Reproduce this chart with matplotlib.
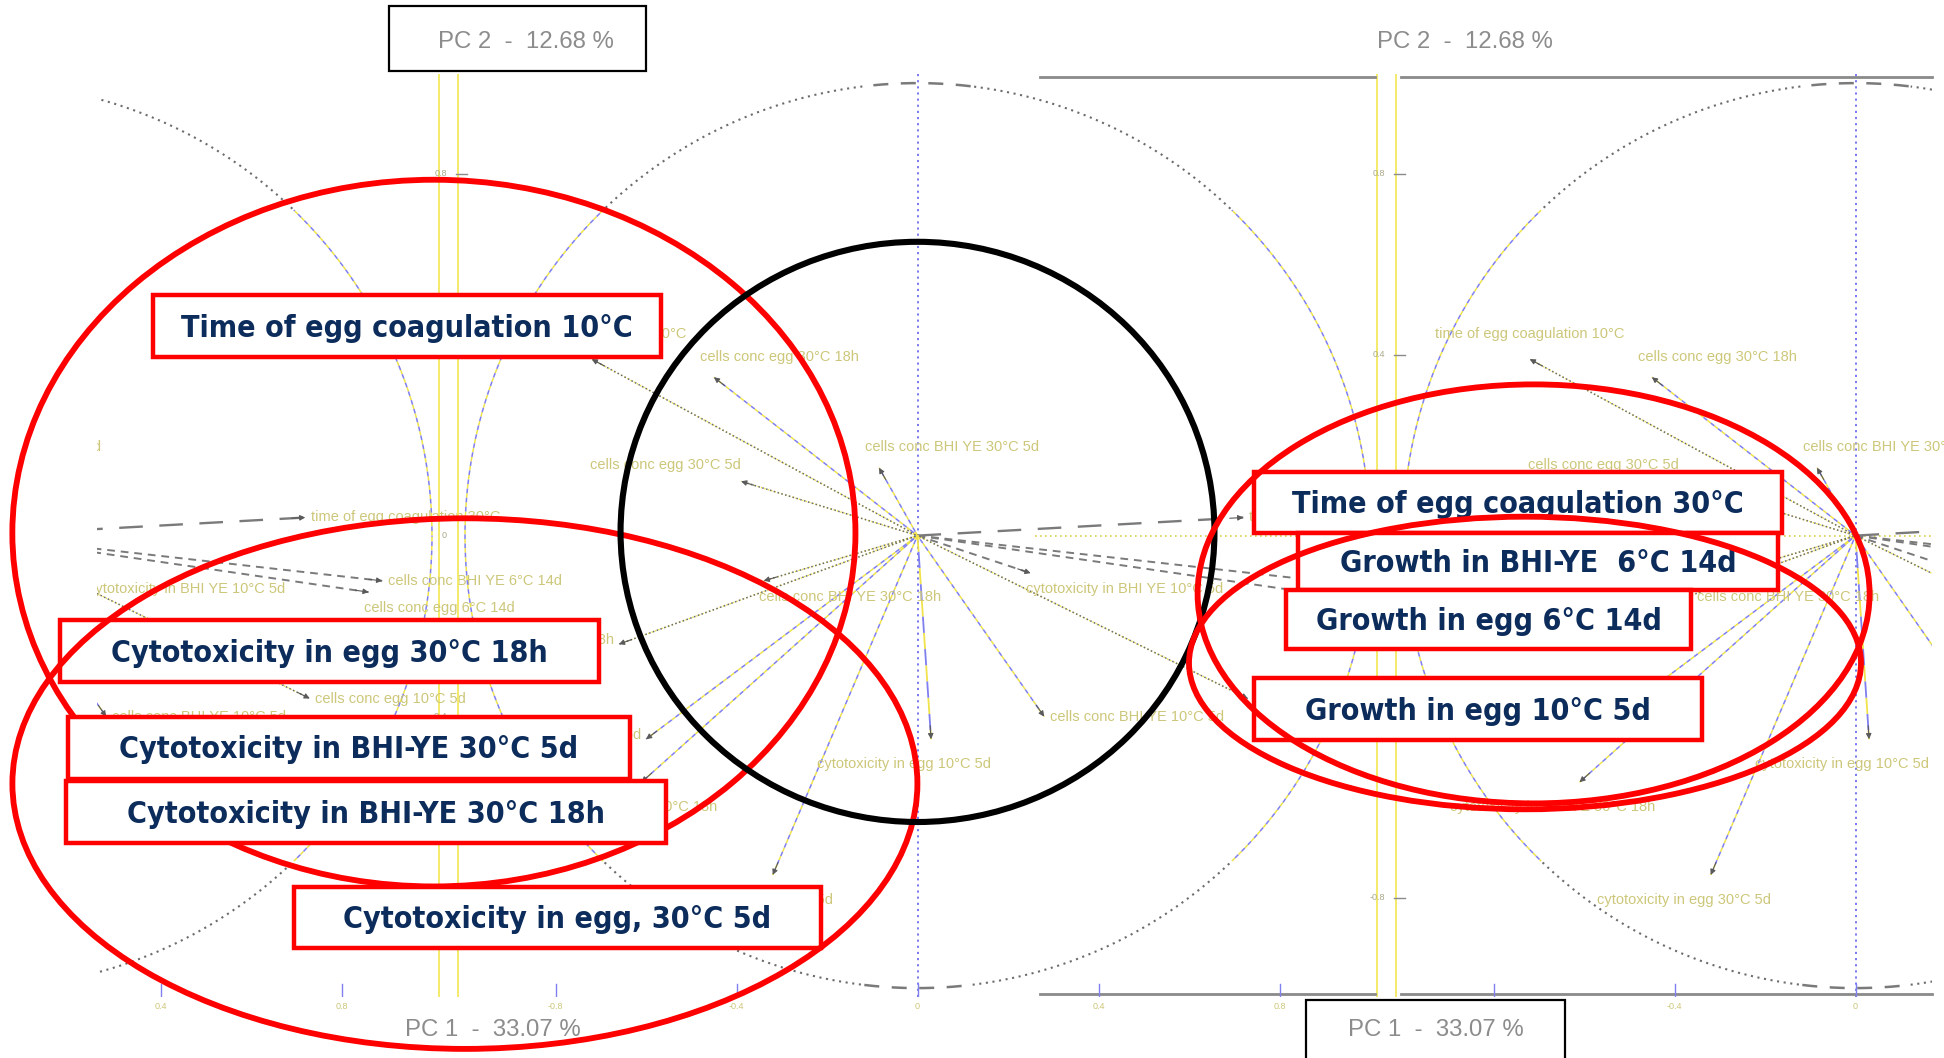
import numpy as np
import matplotlib
matplotlib.use("Agg")
import matplotlib.pyplot as plt
from matplotlib import font_manager
from matplotlib.patches import Ellipse, Rectangle
from matplotlib.transforms import Bbox, TransformedBbox

# ------------------------------------------------------------------ data
variables = [
    "time of egg coagulation 10°C",
    "cells conc egg 30°C 18h",
    "cells conc egg 30°C 5d",
    "cells conc BHI YE 30°C 5d",
    "time of egg coagulation 30°C",
    "cells conc BHI YE 6°C 14d",
    "cells conc egg 6°C 14d",
    "cytotoxicity in BHI YE 10°C 5d",
    "cells conc BHI YE 30°C 18h",
    "cells conc egg 10°C 5d",
    "cytotoxicity in egg 10°C 5d",
    "cells conc BHI YE 10°C 5d",
    "cytotoxicity in egg 30°C 5d",
    "cytotoxicity in BHI YE 30°C 5d",
    "cytotoxicity in BHI YE 30°C 18h",
    "cytotoxicity in egg 30°C 18h",
]
pc1_loading = [-0.72, -0.45, -0.39, -0.085, 0.72, 0.89, 0.86, 0.25,
               -0.34, 0.73, 0.03, 0.28, -0.32, -0.60, -0.61, -0.66]
pc2_loading = [0.39, 0.35, 0.12, 0.15, 0.04, -0.10, -0.125, -0.083,
               -0.10, -0.36, -0.45, -0.40, -0.75, -0.45, -0.545, -0.24]

pc1_title = "PC 1  -  33.07 %"
pc2_title = "PC 2  -  12.68 %"
tick_values = [-0.8, -0.4, 0.0, 0.4, 0.8]
tick_labels = ["-0.8", "-0.4", "0", "0.4", "0.8"]

left_group = ["Time of egg coagulation 10°C",
              "Cytotoxicity in egg 30°C 18h",
              "Cytotoxicity in BHI-YE 30°C 5d",
              "Cytotoxicity in BHI-YE 30°C 18h",
              "Cytotoxicity in egg, 30°C 5d"]
right_group = ["Time of egg coagulation 30°C",
               "Growth in BHI-YE  6°C 14d",
               "Growth in egg 6°C 14d",
               "Growth in egg 10°C 5d"]

# ------------------------------------------------------------------ styles
line_kind = ['dot', 'yb', 'dot', 'yb', 'long', 'dash', 'dash', 'dash',
             'dot', 'dot', 'yblong', 'yb', 'yb', 'yb', 'yb', 'dot']
label_pos = ['ca', 'la', 'ra', 'la', 'l', 'l', 'lb', 'lb',
             'lb', 'l', 'cb', 'l', 'cb', 'r', 'cb', 'r']

YEL = '#efe24a'
BLU = '#7f7ff0'
GRY = '#6c6c6c'
LBL = '#cdc77a'
NAVY = '#0c2c5c'
RED = '#ff0000'

fonts = font_manager.fontManager.ttflist
names = {f.name for f in fonts}


def _is_bold(w):
    try:
        return int(w) >= 600
    except (TypeError, ValueError):
        return str(w).lower() in ('bold', 'heavy', 'black', 'extra bold', 'semibold', 'demibold')


box_family, box_stretch = 'DejaVu Sans', 'normal'
if 'Liberation Sans Narrow' in names:
    box_family = 'Liberation Sans Narrow'
else:
    for fam in ['DejaVu Sans', 'Noto Sans', 'Open Sans', 'Roboto', 'Lato']:
        hit = [f for f in fonts if f.name == fam and 'condensed' in str(f.stretch) and _is_bold(f.weight)]
        if hit:
            box_family, box_stretch = fam, hit[0].stretch
            break
small_family = 'Liberation Sans' if 'Liberation Sans' in names else 'DejaVu Sans'

W, H, DPI = 1944, 1058, 100
fig = plt.figure(figsize=(W / DPI, H / DPI), dpi=DPI)
fig.patch.set_facecolor('white')

# annotation box layout (figure pixels, from top-left)
left_boxes = [(152.5, 295, 660.8, 357), (59.5, 620, 598.8, 682), (68.2, 716.6, 629.8, 778.6),
              (65.7, 781, 665.8, 843), (293.8, 886.5, 820.7, 948.4)]
right_boxes = [(1253.5, 471.5, 1782, 533), (1298, 533, 1778, 590), (1286, 590, 1691, 649),
               (1253.5, 678, 1702, 740)]

# ------------------------------------------------------------------ loading panels (collage of 3 copies)
centers = [-20.5, 917.5, 1855.5]
CY, R, F = 535.6, 452.5, 1.02
xlims = [(0.26, F), (-F, F), (-F, (W - 12 - 1855.5) / R)]
clip_px = centers[0] + 0.26 * R
clipbb = TransformedBbox(Bbox([[clip_px / W, 0], [1, 1]]), fig.transFigure)
panel_texts = []


def ptext(ax, x, y, s, **kw):
    t = ax.text(x, y, s, clip_on=True, family=small_family, **kw)
    t.set_clip_path(None)
    t.set_clip_box(clipbb)
    panel_texts.append(t)
    return t


def draw_vector(ax, x, y, kind):
    xs, ys = [0, x], [0, y]
    if kind == 'dot':
        ax.plot(xs, ys, color=YEL, lw=1.0, ls=(0, (1, 1.6)))
        ax.plot(xs, ys, color=GRY, lw=1.1, ls=(1.3, (1, 1.6)))
    elif kind == 'yb':
        ax.plot(xs, ys, color=YEL, lw=1.1, ls=(0, (3, 3)))
        ax.plot(xs, ys, color=BLU, lw=1.1, ls=(3, (3, 3)))
    elif kind == 'yblong':
        ax.plot(xs, ys, color=YEL, lw=1.3, ls=(0, (9, 9)))
        ax.plot(xs, ys, color=BLU, lw=1.3, ls=(9, (9, 9)))
    elif kind == 'dash':
        ax.plot(xs, ys, color='#7a7a7a', lw=1.4, ls=(0, (4, 3)))
    elif kind == 'long':
        ax.plot(xs, ys, color='#7a7a7a', lw=1.7, ls=(0, (10, 7)))
    n = np.hypot(x, y)
    ux, uy = x / n, y / n
    ax.annotate('', xy=(x, y), xytext=(x - 0.03 * ux, y - 0.03 * uy),
                arrowprops=dict(arrowstyle='-|>', color='#5a5a5a', lw=0.8,
                                mutation_scale=8, shrinkA=0, shrinkB=0))


def draw_label(ax, x, y, s, pos):
    kw = dict(fontsize=10.5, color=LBL)
    if pos == 'l':
        ptext(ax, x + 0.012, y, s, ha='left', va='center', **kw)
    elif pos == 'la':
        ptext(ax, x - 0.03, y + 0.03, s, ha='left', va='bottom', **kw)
    elif pos == 'lb':
        ptext(ax, x - 0.01, y - 0.02, s, ha='left', va='top', **kw)
    elif pos == 'r':
        ptext(ax, x - 0.01, y + 0.01, s, ha='right', va='center', **kw)
    elif pos == 'ra':
        ptext(ax, x, y + 0.02, s, ha='right', va='bottom', **kw)
    elif pos == 'ca':
        ptext(ax, x, y + 0.04, s, ha='center', va='bottom', **kw)
    elif pos == 'cb':
        ptext(ax, x - 0.06, y - 0.04, s, ha='center', va='top', **kw)


theta = np.linspace(0, 2 * np.pi, 1441)
cxs, cys = np.cos(theta), np.sin(theta)
steep = np.abs(cys) <= 0.72
cap = np.abs(cxs) <= 0.12
flat = ~steep & ~cap

for i, (cx, (x0, x1)) in enumerate(zip(centers, xlims)):
    lpx = cx + x0 * R
    wpx = (x1 - x0) * R
    tpx = CY - F * R
    hpx = 2 * F * R
    ax = fig.add_axes([lpx / W, 1 - (tpx + hpx) / H, wpx / W, hpx / H], zorder=1 + i)
    ax.set_xlim(x0, x1)
    ax.set_ylim(-F, F)
    ax.axis('off')
    ax.patch.set_alpha(0)

    # correlation circle
    ax.plot(np.where(steep, cxs, np.nan), np.where(steep, cys, np.nan), color=YEL, lw=1.1, ls=(0, (3, 3)))
    ax.plot(np.where(steep, cxs, np.nan), np.where(steep, cys, np.nan), color=BLU, lw=1.1, ls=(3, (3, 3)))
    ax.plot(np.where(flat, cxs, np.nan), np.where(flat, cys, np.nan), color=GRY, lw=1.5, ls=(0, (1, 2.2)))
    ax.plot(np.where(cap, cxs, np.nan), np.where(cap, cys, np.nan), color='#7a7a7a', lw=1.8, ls=(0, (6, 5)))

    # axes through the origin
    ax.axvline(0, color='#6f6fee', lw=1.3, ls=(0, (1.2, 2.2)))
    if i == 1:
        ax.plot([0.26, F], [0, 0], color='#d8cf50', lw=1.2, ls=(0, (1, 2)))
    elif i == 2:
        ax.axhline(0, color='#d8cf50', lw=1.2, ls=(0, (1, 2)))

    # frame edges (yellow)
    ax.axvline(-1.015, color='#f3ea6a', lw=1.4)
    ax.axvline(1.015, color='#f3ea6a', lw=1.4)

    # grey top / bottom rules of the right part of the collage
    if i == 1:
        for yy in (1.013, -1.013):
            ax.plot([0.27, 1.01], [yy, yy], color='#8a8a8a', lw=2.0, clip_on=False)
    if i == 2:
        for yy in (1.013, -1.013):
            ax.plot([-1.005, x1], [yy, yy], color='#8a8a8a', lw=2.0, clip_on=False)

    # ticks
    for v, lab in zip(tick_values, tick_labels):
        ax.plot([v, v], [-F, -0.99], color=BLU, lw=1.0)
        ptext(ax, v, -1.03, lab, ha='center', va='top', fontsize=6.5, color=LBL)
        if v != 0:
            ax.plot([-F, -0.995], [v, v], color='#8a8a8a', lw=1.0, clip_on=False)
        ptext(ax, -1.04, v, lab, ha='right', va='center', fontsize=6.5, color='#a9a98a')

    # loading vectors
    for name, x, y, kind, pos in zip(variables, pc1_loading, pc2_loading, line_kind, label_pos):
        draw_vector(ax, x, y, kind)
        draw_label(ax, x, y, name, pos)

# drop panel texts that cannot be seen (outside the picture or fully under a white box)
renderer = fig.canvas.get_renderer()
box_disp = [(x0, H - y1, x1, H - y0) for (x0, y0, x1, y1) in left_boxes + right_boxes]
for t in panel_texts:
    e = t.get_window_extent(renderer)
    outside = e.x1 < clip_px + 2 or e.x0 > W - 2 or e.y1 < 0 or e.y0 > H
    covered = any(e.x0 >= bx0 and e.x1 <= bx1 and e.y0 >= by0 and e.y1 <= by1
                  for bx0, by0, bx1, by1 in box_disp)
    if outside or covered:
        t.remove()

# ------------------------------------------------------------------ overlay (annotations)
ov = fig.add_axes([0, 0, 1, 1], zorder=20)
ov.set_xlim(0, W)
ov.set_ylim(H, 0)
ov.axis('off')
ov.patch.set_alpha(0)

probe = ov.text(0, 0, right_group[0], fontsize=20, fontweight='bold', family=box_family,
                fontstretch=box_stretch)
box_fs = 20 * 452 / probe.get_window_extent(renderer).width
probe.remove()
probe = ov.text(0, 0, pc2_title, fontsize=16, family=small_family)
pc_fs = 16 * 176 / probe.get_window_extent(renderer).width
probe.remove()

# ellipses
ov.add_patch(Ellipse((433.9, 533.1), 843.1, 706.7, fill=False, ec=RED, lw=4.2, zorder=1))
ov.add_patch(Ellipse((464.9, 783.6), 905.0, 530.6, fill=False, ec=RED, lw=4.2, zorder=6))
ov.add_patch(Ellipse((917.5, 531.9), 593.9, 580.2, fill=False, ec='black', lw=4.4, zorder=6))
ov.add_patch(Ellipse((1533.6, 593.9), 672.0, 419.0, fill=False, ec=RED, lw=4.2, zorder=6))
ov.add_patch(Ellipse((1525.0, 663.0), 672.0, 292.6, fill=False, ec=RED, lw=4.2, zorder=6))

# annotation boxes
cap_px = 0.72 * box_fs * DPI / 72
for (x0, y0, x1, y1), s in zip(left_boxes + right_boxes, left_group + right_group):
    ov.add_patch(Rectangle((x0, y0), x1 - x0, y1 - y0, fc='white', ec=RED, lw=3.2, zorder=3))
    ov.text((x0 + x1) / 2, (y0 + y1) / 2 + cap_px / 2, s, ha='center', va='baseline',
            fontsize=box_fs, fontweight='bold', color=NAVY, family=box_family,
            fontstretch=box_stretch, zorder=4)

# axis titles of the collage
ov.add_patch(Rectangle((389, 6), 257, 65, fc='white', ec='black', lw=1.6, zorder=3))
ov.text(526, 42, pc2_title, ha='center', va='center', fontsize=pc_fs, color='#8c8c8c',
        family=small_family, zorder=4)
ov.text(1465, 42, pc2_title, ha='center', va='center', fontsize=pc_fs, color='#8c8c8c',
        family=small_family, zorder=4)
ov.text(493, 1030, pc1_title, ha='center', va='center', fontsize=pc_fs, color='#8c8c8c',
        family=small_family, zorder=4)
ov.add_patch(Rectangle((1306, 1000), 259, 80, fc='white', ec='black', lw=1.6, zorder=3))
ov.text(1436, 1030, pc1_title, ha='center', va='center', fontsize=pc_fs, color='#8c8c8c',
        family=small_family, zorder=4)

fig.savefig("out.png", dpi=DPI, facecolor='white')
